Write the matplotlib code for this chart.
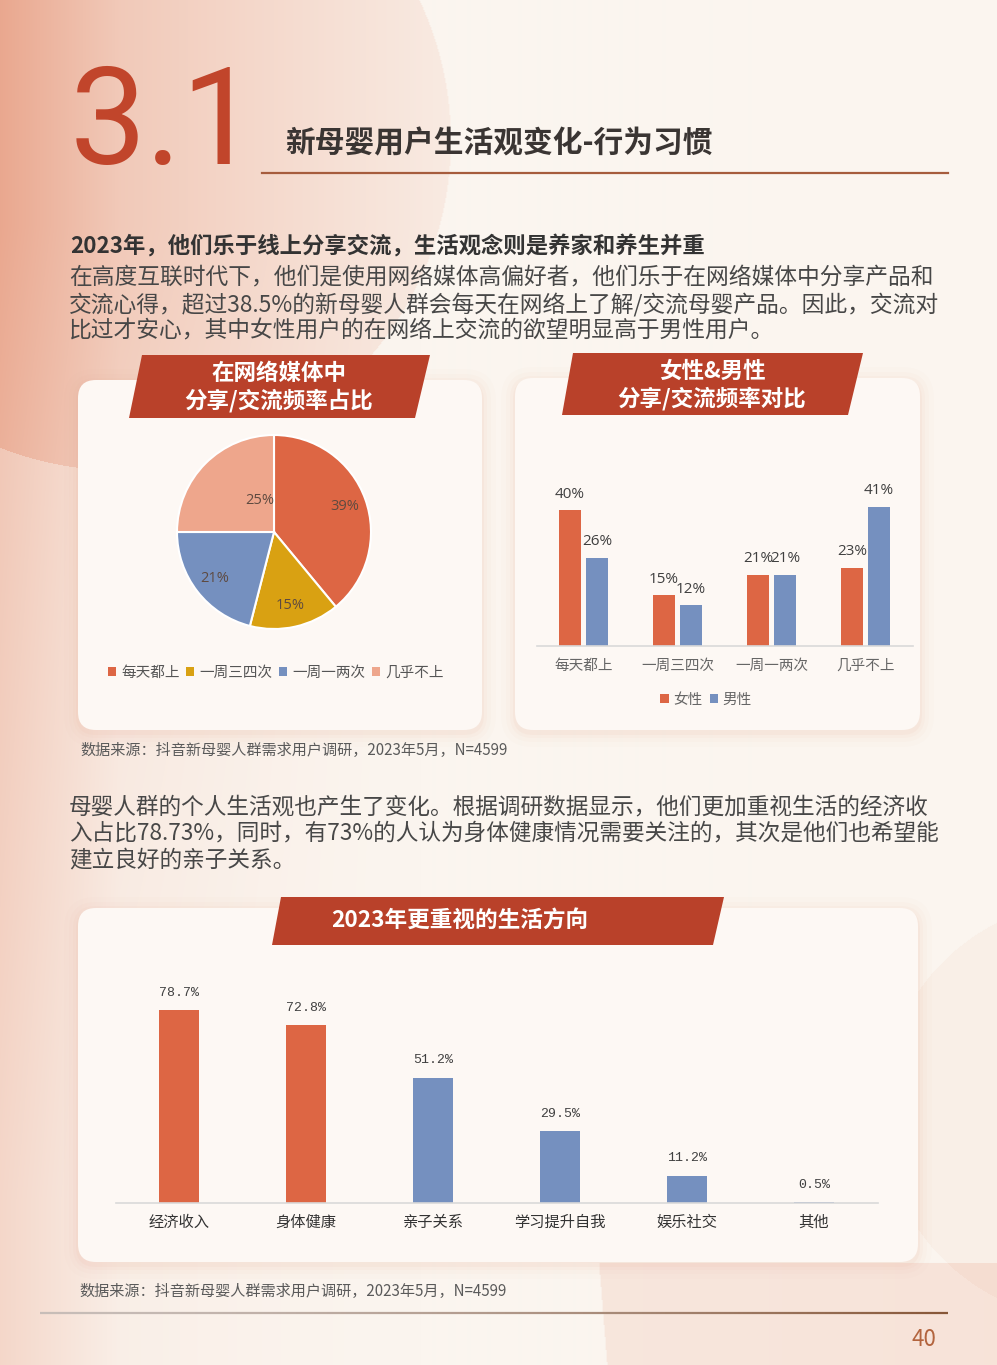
import numpy as np
import matplotlib.pyplot as plt
from matplotlib.patches import FancyBboxPatch, Polygon
from matplotlib.collections import LineCollection

plt.rcParams['font.family'] = ['Noto Sans CJK SC', 'DejaVu Sans']

# ---- data ----
pie_labels = ['每天都上', '一周三四次', '一周一两次', '几乎不上']
pie_values = [39, 15, 21, 25]

freq_cats = ['每天都上', '一周三四次', '一周一两次', '几乎不上']
female = [40, 15, 21, 23]
male = [26, 12, 21, 41]

life_cats = ['经济收入', '身体健康', '亲子关系', '学习提升自我', '娱乐社交', '其他']
life_values = [78.7, 72.8, 51.2, 29.5, 11.2, 0.5]

# ---- colours ----
RED = '#DD6644'
GOLD = '#D9A112'
BLUE = '#7590BF'
SALMON = '#EEA68C'
BANNER = '#B9412A'
PANEL = '#FDF8F4'

W, H = 997, 1365
fig = plt.figure(figsize=(W / 100, H / 100), dpi=100)
bg = fig.add_axes([0, 0, 1, 1])
bg.set_xlim(0, W)
bg.set_ylim(H, 0)
bg.axis('off')

# background wash
yy, xx = np.mgrid[0:H, 0:W]
base = np.array([251, 245, 239]) / 255
pink = np.array([229, 146, 116]) / 255
inside = np.hypot(xx - 120, yy - 140) < 330
t = np.where(inside,
             0.52 * np.clip(1 - xx / 520, 0, 1) ** 1.2 + 0.06,
             0.30 * np.clip(1 - xx / 420, 0, 1) ** 1.5)
t = t * np.clip(1.15 - yy / 1500, 0.35, 1)
t += 0.20 * np.clip(1 - xx / 120, 0, 1)
t += np.where((xx > 598 + (yy - 1262) * 0.08) & (yy > 1262), 0.10 + 0.08 * xx / W, 0)
t += np.where(np.hypot(xx - 1090, yy - 1110) < 210, 0.06, 0)
t = np.clip(t, 0, 1)[..., None]
img = base * (1 - t) + pink * t
bg.imshow(img, extent=[0, W, H, 0], aspect='auto', zorder=0)


def panel(x0, y0, x1, y1):
    for k, a in [(14, 0.025), (9, 0.035), (5, 0.05), (2, 0.07)]:
        bg.add_patch(FancyBboxPatch((x0 - k, y0 - k + 3), x1 - x0 + 2 * k, y1 - y0 + 2 * k,
                                    boxstyle='round,pad=0,rounding_size=%d' % (18 + k),
                                    fc='#E7A58C', ec='none', alpha=a, zorder=1))
    bg.add_patch(FancyBboxPatch((x0, y0), x1 - x0, y1 - y0,
                                boxstyle='round,pad=0,rounding_size=18',
                                fc=PANEL, ec='none', zorder=2))


def banner(pts, lines, size, cx, cy):
    bg.add_patch(Polygon(pts, closed=True, fc=BANNER, ec='none', zorder=3))
    n = len(lines)
    step = 27
    for i, s in enumerate(lines):
        bg.text(cx, cy + (i - (n - 1) / 2) * step, s, color='white', fontsize=size,
                fontweight='bold', ha='center', va='center', zorder=4)


# ---- header ----
bg.text(70, 127, '3.1', fontsize=98, family=['Roboto', 'DejaVu Sans'], fontweight='normal',
        color='#C1452B', ha='left', va='center')
bg.text(285, 143, '新母婴用户生活观变化-行为习惯', fontsize=21.4, fontweight='bold',
        color='#3A3533', ha='left', va='center')
bg.plot([262, 948], [173, 173], color='#A65C3D', lw=1.6)

bg.text(70, 246, '2023年，他们乐于线上分享交流，生活观念则是养家和养生并重', fontsize=16.1,
        fontweight='bold', color='#333333', ha='left', va='center')
para1 = ['在高度互联时代下，他们是使用网络媒体高偏好者，他们乐于在网络媒体中分享产品和',
         '交流心得，超过38.5%的新母婴人群会每天在网络上了解/交流母婴产品。因此，交流对',
         '比过才安心，其中女性用户的在网络上交流的欲望明显高于男性用户。']
for i, s in enumerate(para1):
    bg.text(69, 278 + i * 26.5, s, fontsize=16.4, color='#474747', ha='left', va='center')

para2 = ['母婴人群的个人生活观也产生了变化。根据调研数据显示，他们更加重视生活的经济收',
         '入占比78.73%，同时，有73%的人认为身体健康情况需要关注的，其次是他们也希望能',
         '建立良好的亲子关系。']
for i, s in enumerate(para2):
    bg.text(69, 807 + i * 26.5, s, fontsize=16.3, color='#474747', ha='left', va='center')

src = '数据来源：抖音新母婴人群需求用户调研，2023年5月，N=4599'
bg.text(80, 750, src, fontsize=10.9, color='#5A5A5A', ha='left', va='center')
bg.text(79, 1291, src, fontsize=10.9, color='#5A5A5A', ha='left', va='center')

# footer line with gradient
xs = np.linspace(40, 948, 200)
segs = [[(xs[i], 1313), (xs[i + 1], 1313)] for i in range(len(xs) - 1)]
cols = [(0.78 - 0.25 * f, 0.74 - 0.40 * f, 0.72 - 0.50 * f) for f in np.linspace(0, 1, len(segs)) ** 1.5]
bg.add_collection(LineCollection(segs, colors=cols, lw=1.6, zorder=2))
bg.text(924, 1340, '40', fontsize=16, color='#B3643E', ha='center', va='center')

# ---- panels & banners ----
panel(78, 380, 482, 730)
panel(515, 378, 920, 730)
panel(78, 908, 918, 1262)
banner([(142, 355), (430, 355), (415, 418), (129, 418)], ['在网络媒体中', '分享/交流频率占比'],
       16.2, 279, 387)
banner([(573, 353), (863, 353), (848, 415), (562, 415)], ['女性&男性', '分享/交流频率对比'],
       16.2, 712, 385)
banner([(281, 897), (724, 897), (713, 945), (272, 945)], ['2023年更重视的生活方向'],
       16.3, 460, 920)


def px_axes(x0, y0, x1, y1):
    a = fig.add_axes([x0 / W, 1 - y1 / H, (x1 - x0) / W, (y1 - y0) / H])
    a.patch.set_alpha(0)
    return a


# ---- pie ----
cx, cy, r = 274, 532, 97
pax = px_axes(cx - 1.25 * r, cy - 1.25 * r, cx + 1.25 * r, cy + 1.25 * r)
wedges, _, autotexts = pax.pie(pie_values, colors=[RED, GOLD, BLUE, SALMON], startangle=90,
                               counterclock=False, autopct='%d%%', pctdistance=0.78,
                               wedgeprops=dict(edgecolor='white', linewidth=1.5),
                               textprops=dict(fontsize=10.5, color='#5E4A40',
                                              family=['Open Sans', 'DejaVu Sans']))
autotexts[3].set_position((-0.15, 0.32))
pax.set_xlim(-1.25, 1.25)
pax.set_ylim(-1.25, 1.25)
pax.set_aspect('equal')
leg = fig.legend(wedges, pie_labels, loc='center', ncol=4, frameon=False,
                 bbox_to_anchor=(276 / W, 1 - 673 / H), bbox_transform=fig.transFigure,
                 handlelength=0.55, handleheight=0.55, handletextpad=0.35, columnspacing=0.45,
                 prop={'size': 10.5})
for tx in leg.get_texts():
    tx.set_color('#555555')
for hd in leg.legend_handles:
    hd.set_edgecolor('none')

# ---- grouped bars ----
gax = px_axes(536.5, 476, 912.5, 646)
x = np.arange(len(freq_cats))
off, bw = 0.144, 0.234
b1 = gax.bar(x - off, female, bw, color=RED, label='女性')
b2 = gax.bar(x + off, male, bw, color=BLUE, label='男性')
for bars, vals in [(b1, female), (b2, male)]:
    gax.bar_label(bars, labels=['%d%%' % v for v in vals], padding=6, fontsize=11,
                  color='#404040', family=['Open Sans', 'DejaVu Sans'])
gax.set_xlim(-0.5, 3.5)
gax.set_ylim(0, 50)
gax.set_xticks(x, freq_cats)
gax.tick_params(axis='x', length=0, pad=9, labelsize=10.5, labelcolor='#666666')
gax.set_yticks([])
for s in ['top', 'right', 'left']:
    gax.spines[s].set_visible(False)
gax.spines['bottom'].set_color('#D9D9D9')
gax.spines['bottom'].set_linewidth(1.2)
leg2 = fig.legend(handles=[b1, b2], loc='center', ncol=2, frameon=False,
                  bbox_to_anchor=(706 / W, 1 - 700 / H), bbox_transform=fig.transFigure,
                  handlelength=0.6, handleheight=0.6, handletextpad=0.3, columnspacing=0.5,
                  prop={'size': 10.5})
for tx in leg2.get_texts():
    tx.set_color('#666666')

# ---- bottom bars ----
lax = px_axes(115.5, 982.5, 877.5, 1203)
xl = np.arange(len(life_cats))
bars = lax.bar(xl, life_values, 0.315, color=[RED, RED, BLUE, BLUE, BLUE, BLUE])
lax.bar_label(bars, labels=['%.1f%%' % v for v in life_values], padding=8, fontsize=9.5,
              color='#404040', family=['Liberation Mono', 'DejaVu Sans Mono'])
lax.set_xlim(-0.5, 5.5)
lax.set_ylim(0, 90)
lax.set_xticks(xl, life_cats)
lax.tick_params(axis='x', length=0, pad=8, labelsize=11, labelcolor='#333333')
lax.set_yticks([])
for s in ['top', 'right', 'left']:
    lax.spines[s].set_visible(False)
lax.spines['bottom'].set_color('#D9D9D9')
lax.spines['bottom'].set_linewidth(1.2)

fig.savefig('out.png', dpi=100)
